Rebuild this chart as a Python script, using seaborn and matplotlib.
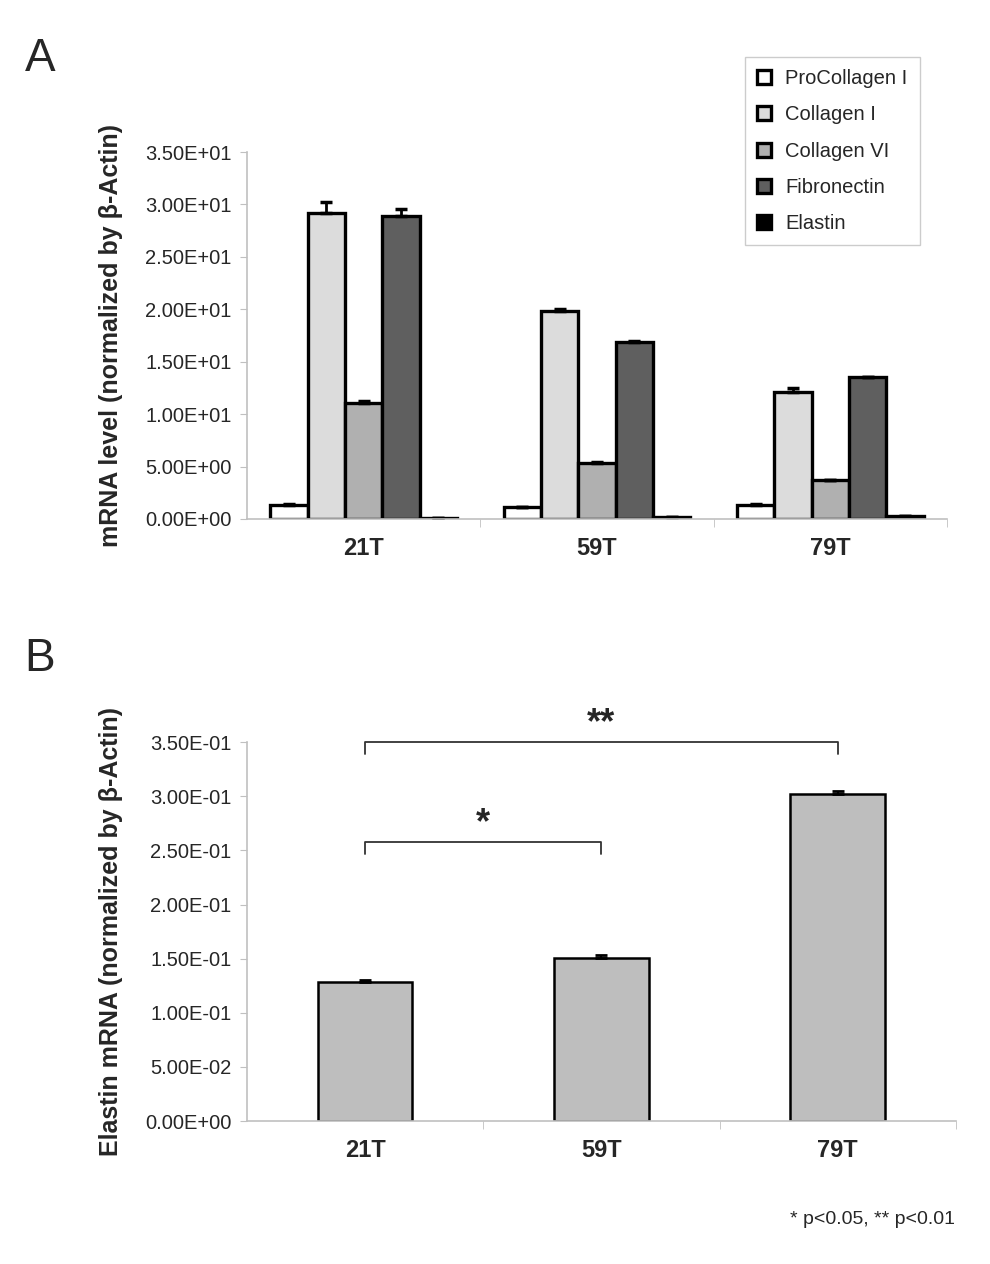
import numpy as np
import pandas as pd
import seaborn as sns
import matplotlib.pyplot as plt
from matplotlib.patches import Patch
from matplotlib.ticker import FuncFormatter, FixedLocator

# data
samples = ["21T", "59T", "79T"]
genes = ["ProCollagen I", "Collagen I", "Collagen VI", "Fibronectin", "Elastin"]
procollagen = [1.35, 1.10, 1.35]
collagen1 = [29.2, 19.8, 12.15]
collagen6 = [11.05, 5.35, 3.7]
fibronectin = [28.9, 16.85, 13.5]
elastin_top = [0.13, 0.15, 0.30]
err_procollagen = [0.05, 0.05, 0.05]
err_collagen1 = [1.0, 0.25, 0.35]
err_collagen6 = [0.2, 0.05, 0.05]
err_fibronectin = [0.7, 0.15, 0.05]
err_elastin_top = [0.0, 0.0, 0.0]

elastin = [0.128, 0.151, 0.302]
err_elastin = [0.0025, 0.0022, 0.0025]

gene_colors = ["#ffffff", "#dcdcdc", "#b0b0b0", "#5f5f5f", "#000000"]

sns.set_style("white")
plt.rcParams["font.family"] = ["Liberation Sans", "DejaVu Sans"]

fig = plt.figure(figsize=(9.9, 12.64), dpi=100)
axA = fig.add_axes([0.2495, 0.5894, 0.707, 0.2903])
axB = fig.add_axes([0.2495, 0.1131, 0.716, 0.2998])

# ---- panel A
vals = [procollagen, collagen1, collagen6, fibronectin, elastin_top]
errs = [err_procollagen, err_collagen1, err_collagen6, err_fibronectin, err_elastin_top]
dfA = pd.DataFrame({
    "sample": samples * len(genes),
    "gene": np.repeat(genes, len(samples)),
    "value": np.concatenate(vals),
})
sns.barplot(data=dfA, x="sample", y="value", hue="gene", hue_order=genes,
            order=samples, palette=gene_colors, width=0.8, ax=axA,
            edgecolor="black", linewidth=2.4, legend=False, errorbar=None)
for cont, e in zip(axA.containers, errs):
    xs = [b.get_x() + b.get_width() / 2 for b in cont]
    hs = [b.get_height() for b in cont]
    axA.errorbar(xs, hs, yerr=[np.zeros(len(e)), e], fmt="none",
                 ecolor="black", elinewidth=2, capsize=4, capthick=2.5)

axA.set_ylim(0, 35)
axA.set_yticks(np.arange(0, 35.1, 5))
axA.set_ylabel("mRNA level (normalized by β-Actin)", fontsize=18,
               fontweight="bold", labelpad=16)

# ---- panel B
dfB = pd.DataFrame({"sample": samples, "value": elastin})
sns.barplot(data=dfB, x="sample", y="value", order=samples, color="#bebebe",
            width=0.4, ax=axB, edgecolor="black", linewidth=1.8,
            errorbar=None, saturation=1)
xs = [b.get_x() + b.get_width() / 2 for b in axB.patches]
hs = [b.get_height() for b in axB.patches]
axB.errorbar(xs, hs, yerr=[np.zeros(3), err_elastin], fmt="none",
             ecolor="black", elinewidth=1.5, capsize=4, capthick=2)
axB.set_ylim(0, 0.35)
axB.set_yticks(np.arange(0, 0.351, 0.05))
axB.set_ylabel("Elastin mRNA (normalized by β-Actin)", fontsize=18,
               fontweight="bold", labelpad=16)

# significance brackets
for (x0, x1, y, lab) in [(0, 1, 0.2576, "*"), (0, 2, 0.35, "**")]:
    axB.plot([x0, x0, x1, x1], [y - 0.011, y, y, y - 0.011], color="#333333",
             lw=1.3, clip_on=False)
    axB.text((x0 + x1) / 2, y + 0.001, lab, ha="center", va="bottom",
             fontsize=26, fontweight="bold")

for ax in (axA, axB):
    ax.set_xlim(-0.5, 2.5)
    ax.set_xlabel("")
    sns.despine(ax=ax)
    for s in ("left", "bottom"):
        ax.spines[s].set_color("#c0c0c0")
        ax.spines[s].set_linewidth(1.2)
    ax.yaxis.set_major_formatter(FuncFormatter(lambda v, p: "{:.2E}".format(v)))
    ax.tick_params(axis="y", labelsize=14.5, length=5, color="#c0c0c0",
                   direction="out", left=True, pad=6)
    ax.tick_params(axis="x", which="major", labelsize=17, length=0, pad=13)
    ax.xaxis.set_minor_locator(FixedLocator([0.5, 1.5, 2.5]))
    ax.tick_params(axis="x", which="minor", length=6, color="#c0c0c0",
                   direction="out", bottom=True)
    for t in ax.get_xticklabels():
        t.set_fontweight("bold")

handles = [Patch(facecolor=c, edgecolor="black", linewidth=2.4) for c in gene_colors]
fig.legend(handles, genes, loc="upper left", bbox_to_anchor=(0.7525, 0.955),
           fontsize=14.5, frameon=True, fancybox=False, edgecolor="#c0c0c0",
           handlelength=0.7, handleheight=0.7, handletextpad=0.7,
           labelspacing=0.86, borderpad=0.6, borderaxespad=0)

fig.text(0.025, 0.953, "A", fontsize=33, va="center")
fig.text(0.025, 0.479, "B", fontsize=33, va="center")
fig.text(0.965, 0.035, "* p<0.05, ** p<0.01", fontsize=14, ha="right", va="center")

fig.savefig("out.png", dpi=100)
